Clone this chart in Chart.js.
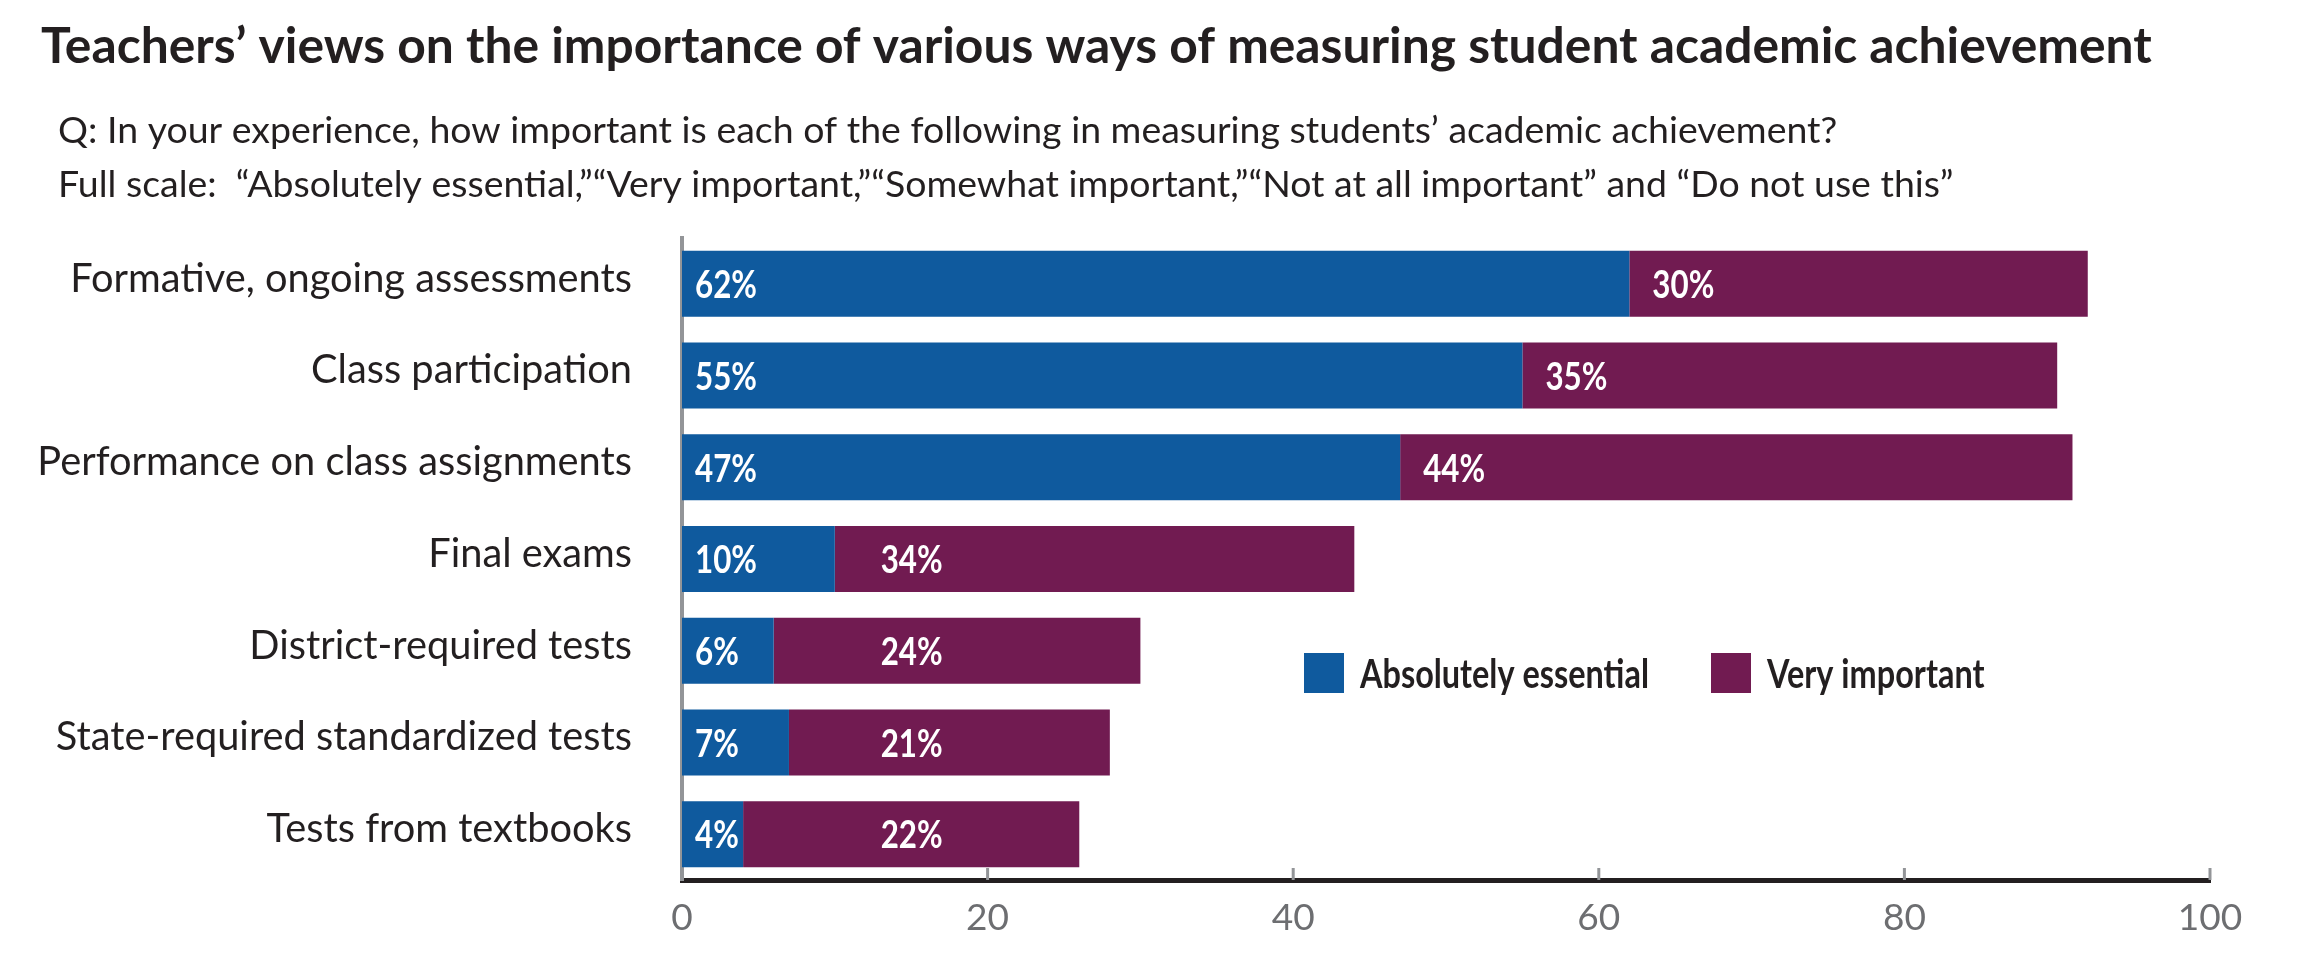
<!DOCTYPE html>
<html>
<head>
<meta charset="utf-8">
<title>Teachers’ views on measuring student academic achievement</title>
<script src="https://cdn.jsdelivr.net/npm/chart.js@4.4.1/dist/chart.umd.min.js"></script>
<style>
  html, body { margin: 0; padding: 0; background: #fff; }
  #wrap { width: 2319px; height: 963px; position: relative; }
</style>
</head>
<body>
<div id="wrap"><canvas id="chart"></canvas></div>
<script>
const titleText = 'Teachers’ views on the importance of various ways of measuring student academic achievement';
const subtitleLines = [
  'Q: In your experience, how important is each of the following in measuring students’ academic achievement?',
  'Full scale:  “Absolutely essential,”“Very important,”“Somewhat important,”“Not at all important” and “Do not use this”'
];
const categories = [
  'Formative, ongoing assessments',
  'Class participation',
  'Performance on class assignments',
  'Final exams',
  'District-required tests',
  'State-required standardized tests',
  'Tests from textbooks'
];
const seriesNames = ['Absolutely essential', 'Very important'];
const absolutelyEssential = [62, 55, 47, 10, 6, 7, 4];
const veryImportant = [30, 35, 44, 34, 24, 21, 22];
const xTicks = [0, 20, 40, 60, 80, 100];

const BLUE = '#0f5a9e';
const PURPLE = '#711b51';
const INK = '#231f20';
const GREY = '#6d6e71';
const RULE = '#939598';
const PLAIN = "Lato, 'Liberation Sans', sans-serif";

// size fonts so the text runs as wide as in the picture
const measureCtx = document.createElement('canvas').getContext('2d');
const textWidth = (text, font) => {
  measureCtx.font = font;
  return measureCtx.measureText(text).width;
};
const fitSize = (text, weight, width) => 100 * width / textWidth(text, weight + ' 100px ' + PLAIN);
const titleSize = fitSize(titleText, 'bold', 2111);
const subSize = fitSize(subtitleLines[0], 'normal', 1780);
const catSize = fitSize(categories[0], 'normal', 562);
const tickSize = fitSize('20', 'normal', 43);

// the bold labels are condensed in the picture: keep their height, squeeze their width
const valueFont = 'bold 38px ' + PLAIN;
const valueSqueeze = 62 / textWidth('62%', valueFont);
const legendFont = 'bold 41px ' + PLAIN;
const legendSqueeze = 289 / textWidth(seriesNames[0], legendFont);

const squeezedText = (ctx, text, x, y, squeeze) => {
  ctx.save();
  ctx.translate(x, y);
  ctx.scale(squeeze, 1);
  ctx.fillText(text, 0, 0);
  ctx.restore();
  return ctx.measureText(text).width * squeeze;
};

const header = {
  id: 'header',
  afterDraw(chart) {
    const ctx = chart.ctx;
    ctx.save();
    ctx.fillStyle = INK;
    ctx.textAlign = 'left';
    ctx.textBaseline = 'alphabetic';
    ctx.font = 'bold ' + titleSize + 'px ' + PLAIN;
    ctx.fillText(titleText, 41, 63);
    ctx.font = subSize + 'px ' + PLAIN;
    ctx.fillText(subtitleLines[0], 58, 143);
    ctx.fillText(subtitleLines[1], 58, 197);
    ctx.restore();
  }
};

const axisTicks = {
  id: 'axisTicks',
  afterDatasetsDraw(chart) {
    const ctx = chart.ctx, x = chart.scales.x, bottom = chart.chartArea.bottom;
    ctx.save();
    ctx.strokeStyle = RULE;
    ctx.lineWidth = 3;
    xTicks.forEach(v => {
      const px = x.getPixelForValue(v);
      ctx.beginPath();
      ctx.moveTo(px, bottom - 12);
      ctx.lineTo(px, bottom);
      ctx.stroke();
    });
    ctx.restore();
  }
};

const valueLabels = {
  id: 'valueLabels',
  afterDatasetsDraw(chart) {
    const ctx = chart.ctx, x = chart.scales.x;
    ctx.save();
    ctx.fillStyle = '#ffffff';
    ctx.font = valueFont;
    ctx.textAlign = 'left';
    ctx.textBaseline = 'middle';
    chart.data.datasets.forEach((ds, i) => {
      chart.getDatasetMeta(i).data.forEach((bar, j) => {
        let px = bar.base + 13;
        if (i === 1) px = Math.max(bar.base + 23, x.getPixelForValue(13));
        squeezedText(ctx, ds.data[j] + '%', px, bar.y + 2, valueSqueeze);
      });
    });
    ctx.restore();
  }
};

const legendBox = {
  id: 'legendBox',
  afterDraw(chart) {
    const ctx = chart.ctx;
    let px = 1304;
    const top = 653, side = 40;
    ctx.save();
    ctx.font = legendFont;
    ctx.textAlign = 'left';
    ctx.textBaseline = 'middle';
    chart.data.datasets.forEach(ds => {
      ctx.fillStyle = ds.backgroundColor;
      ctx.fillRect(px, top, side, side);
      ctx.fillStyle = INK;
      const w = squeezedText(ctx, ds.label, px + 56, top + side / 2 + 2, legendSqueeze);
      px += 56 + w + 62;
    });
    ctx.restore();
  }
};

new Chart(document.getElementById('chart'), {
  type: 'bar',
  data: {
    labels: categories,
    datasets: [
      { label: seriesNames[0], data: absolutelyEssential, backgroundColor: BLUE },
      { label: seriesNames[1], data: veryImportant, backgroundColor: PURPLE }
    ]
  },
  options: {
    indexAxis: 'y',
    responsive: true,
    maintainAspectRatio: false,
    animation: false,
    devicePixelRatio: 1,
    layout: { padding: { top: 238, right: 109, bottom: 0, left: 0 } },
    datasets: { bar: { categoryPercentage: 1, barPercentage: 0.72, borderWidth: 0 } },
    plugins: {
      legend: { display: false },
      tooltip: { enabled: false },
      title: { display: false }
    },
    scales: {
      x: {
        stacked: true,
        min: 0,
        max: 100,
        afterBuildTicks: s => { s.ticks = xTicks.map(v => ({ value: v })); },
        afterFit: s => { s.height = 83; },
        grid: { display: false, drawTicks: false },
        border: { display: true, color: INK, width: 5 },
        ticks: { padding: 16, color: GREY, font: { family: PLAIN, size: tickSize } }
      },
      y: {
        stacked: true,
        afterFit: s => { s.width = 682; },
        grid: { display: false, drawTicks: false },
        border: { display: true, color: RULE, width: 4 },
        ticks: { padding: 50, labelOffset: -5, color: INK, font: { family: PLAIN, size: catSize } }
      }
    }
  },
  plugins: [header, axisTicks, valueLabels, legendBox]
});
</script>
</body>
</html>
